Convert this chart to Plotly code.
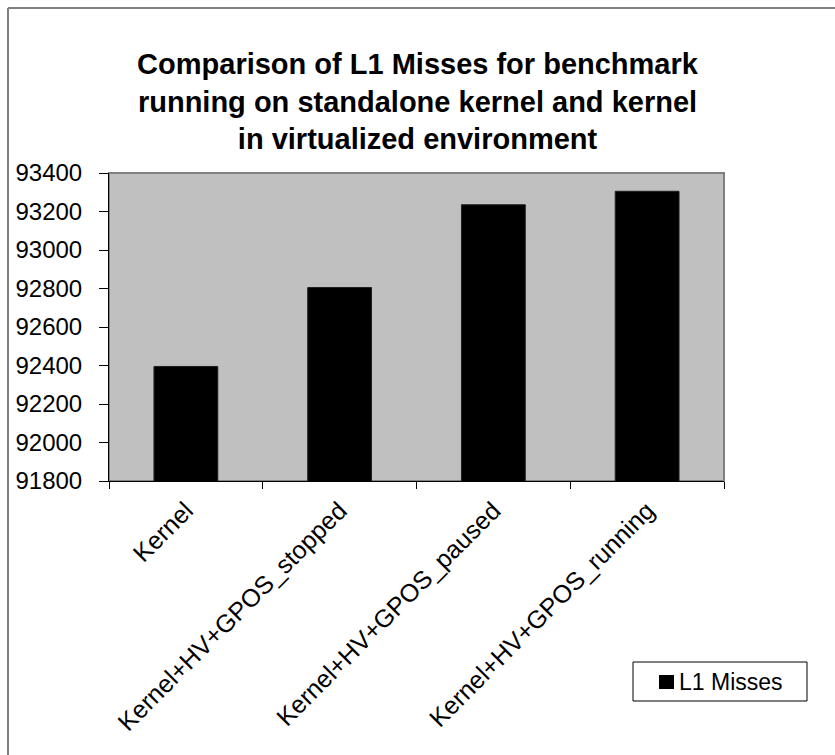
import plotly.graph_objects as go

# Benchmark configurations and their measured L1 cache misses
categories = [
    "Kernel",
    "Kernel+HV+GPOS_stopped",
    "Kernel+HV+GPOS_paused",
    "Kernel+HV+GPOS_running",
]
l1_misses = [92395, 92805, 93235, 93305]
series_name = "L1 Misses"
y_ticks = [91800, 92000, 92200, 92400, 92600, 92800, 93000, 93200, 93400]

W, H = 835, 755
# plot area in pixels
PL, PR, PT, PB = 109, 724, 173, 481
pw, ph = PR - PL, PB - PT


def px_x(x):
    return (x - PL) / pw


def px_y(y):
    return (PB - y) / ph


FONT = "Liberation Sans, Arial, sans-serif"
BAR_COLOR = "#000000"

fig = go.Figure(
    go.Bar(
        x=categories,
        y=l1_misses,
        name=series_name,
        marker=dict(color=BAR_COLOR, line=dict(color="#202020", width=1)),
        showlegend=False,
    )
)

# legend box drawn by hand: frame, colour swatch and label
legend_shapes = [
    dict(type="rect", xref="paper", yref="paper",
         x0=px_x(633), x1=px_x(807), y0=px_y(701), y1=px_y(662),
         line=dict(color="#000000", width=1), fillcolor="#ffffff"),
    dict(type="rect", xref="paper", yref="paper",
         x0=px_x(659), x1=px_x(674), y0=px_y(689), y1=px_y(675),
         line=dict(width=0), fillcolor=BAR_COLOR),
]

fig.update_layout(
    width=W,
    height=H,
    margin=dict(l=PL, r=W - PR, t=PT, b=H - PB, pad=0),
    paper_bgcolor="#ffffff",
    plot_bgcolor="#c0c0c0",
    bargap=0.585,
    font=dict(family=FONT, color="#000000"),
    title=dict(
        text="Comparison of L1 Misses for benchmark<br>running on standalone kernel and kernel<br>in virtualized environment",
        font=dict(family=FONT, size=29, color="#000000", weight="bold"),
        x=0.5,
        xref="container",
        xanchor="center",
        y=1 - 74 / H,
        yref="container",
        yanchor="top",
    ),
    showlegend=False,
    shapes=[
        # frame of the plotting area
        dict(type="rect", xref="paper", yref="paper", x0=0, x1=1, y0=0, y1=1,
             line=dict(color="#808080", width=2), layer="below"),
        # outer chart border (left and top)
        dict(type="line", xref="paper", yref="paper",
             x0=px_x(8), x1=px_x(8), y0=px_y(8), y1=px_y(H + 10),
             line=dict(color="#808080", width=2)),
        dict(type="line", xref="paper", yref="paper",
             x0=px_x(8), x1=px_x(W + 10), y0=px_y(8), y1=px_y(8),
             line=dict(color="#808080", width=2)),
    ] + legend_shapes,
    annotations=[
        dict(text=series_name, xref="paper", yref="paper",
             x=px_x(677), y=px_y(682), xanchor="left", yanchor="middle",
             showarrow=False,
             font=dict(family=FONT, size=23, color="#000000")),
    ],
)

fig.update_xaxes(
    type="category",
    showline=True,
    linecolor="#000000",
    linewidth=1,
    showgrid=False,
    ticks="outside",
    tickson="boundaries",
    ticklen=7,
    tickcolor="#000000",
    tickangle=-45,
    ticklabelstandoff=4,
    tickfont=dict(family=FONT, size=25, color="#000000"),
)

fig.update_yaxes(
    range=[91800, 93400],
    tickvals=y_ticks,
    ticktext=[str(v) for v in y_ticks],
    showline=True,
    linecolor="#000000",
    linewidth=1,
    showgrid=False,
    zeroline=False,
    ticks="outside",
    ticklen=9,
    tickcolor="#000000",
    ticklabelstandoff=12,
    tickfont=dict(family=FONT, size=24, color="#000000"),
)

fig.write_html("out.html")
